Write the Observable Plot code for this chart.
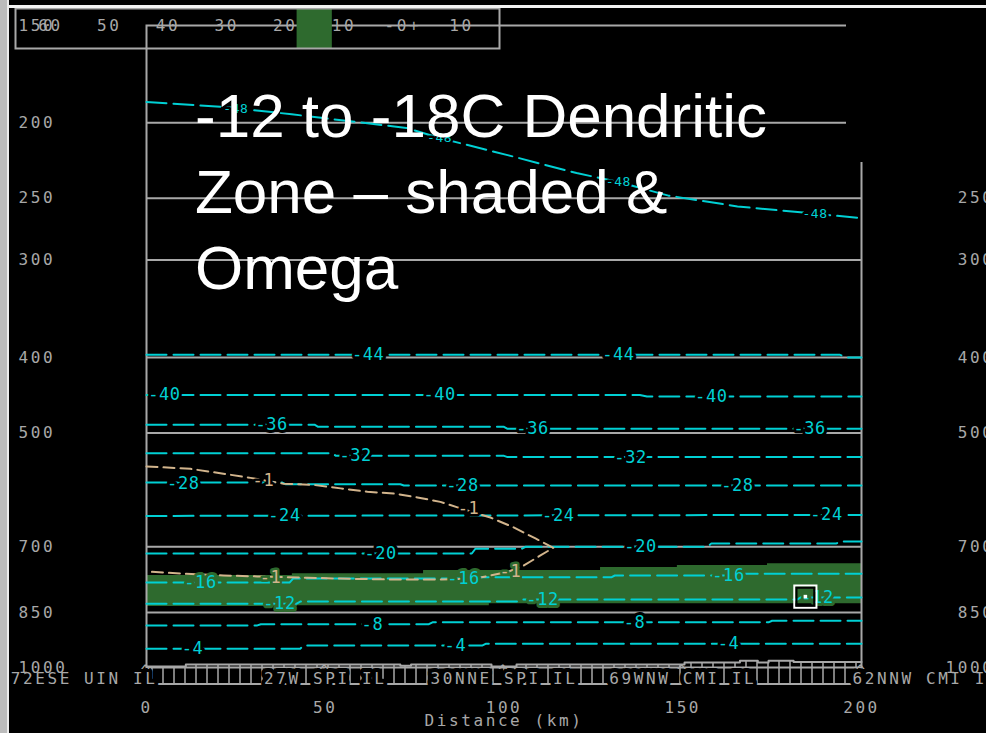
<!DOCTYPE html>
<html>
<head>
<meta charset="utf-8">
<script src="https://cdn.jsdelivr.net/npm/d3@7"></script>
<script src="https://cdn.jsdelivr.net/npm/@observablehq/plot@0.6"></script>
<style>
html, body { margin: 0; padding: 0; background: #000; }
#wrap { position: relative; width: 986px; height: 733px; overflow: hidden; background: #000; }
#wrap svg { position: absolute; left: 0; top: 0; }
#wrap svg g[fill="#a8a8a8"] text { letter-spacing: 2.6px; }
#wrap svg g[fill="#00d0d4"] text, #wrap svg g[fill="#d2b48c"] text { letter-spacing: 0.6px; }
.title { position: absolute; left: 195px; top: 78px; font: 62px/76px "Liberation Sans", Arial, sans-serif; color: #fff; white-space: nowrap; }
.topline { position: absolute; left: 9px; top: 5px; width: 977px; height: 3px; background: #f2f2f2; }
.leftbar { position: absolute; left: 0; top: 0; width: 7px; height: 733px; background: #bcbcbc; }
.leftline { position: absolute; left: 7px; top: 0; width: 2px; height: 733px; background: #ececec; }
.cover { position: absolute; left: 846px; top: 9px; width: 140px; height: 153px; background: #000; }
</style>
</head>
<body>
<div id="wrap"></div>
<script>
// ---------- data ----------
const xTicks = [0, 50, 100, 150, 200];                       // distance (km)
const leftTicks = [150, 200, 250, 300, 400, 500, 700, 850, 1000]; // hPa
const rightTicks = [250, 300, 400, 500, 700, 850, 1000];
const gridP = [200, 250, 300, 400, 500, 700, 850];
const stations = ["72ESE UIN IL", "27W SPI IL", "30NNE SPI IL", "69WNW CMI IL", "62NNW CMI IL"];
const stationKm = [0, 50, 100, 150, 200];

// isotherms: [km, hPa]
const isoM48 = [[0,188],[22.7,191],[40.6,195],[72.7,203],[81.7,209],[101,220],[120.3,232],[131.7,238],[146,248],[165.3,256],[188.5,262],[200,265]];
const labM48 = [[25,192],[82,209],[132,238],[187,262]];
const isoM44 = [[0,397],[194,397],[196,400],[200,400]];
const labM44 = [[62,397],[132,397]];
const isoM40 = [[0,447],[138,447],[140,449],[200,449]];
const labM40 = [[5,447],[82,447],[158,449]];
const isoM36 = [[0,488],[47,488],[48,491],[100,491],[101,494],[200,494]];
const labM36 = [[35,488],[108,494],[185.5,494]];
const isoM32 = [[0,531],[52,531],[53,535],[100,535],[101,537],[200,537]];
const labM32 = [[58.5,535],[135.4,537]];
const isoM28 = [[0,579],[38,579],[39,582],[71,582],[72,584],[200,584]];
const labM28 = [[10.3,580],[88.4,584],[165.3,584]];
const isoM24 = [[0,639],[100,638],[200,637]];
const labM24 = [[38.6,639],[115.2,638],[190.2,637]];
const isoM20 = [[0,714],[91,714],[92,704],[105,704],[106,700],[157,700],[158,693],[193,693],[194,689],[200,689]];
const labM20 = [[65.5,714],[138.2,700]];
const isoM16 = [[0,778],[40,778],[41,769],[91,769],[92,766],[130,766],[131,762],[163,762],[164,758],[200,758]];
const labM16 = [[15.1,778],[88.7,769],[162.8,762]];
const isoM12 = [[0,828],[42,828],[43,823],[104,823],[105,818],[182,818],[183,813],[200,813]];
const labM12 = [[37.2,828],[110.8,818],[187.7,813]];
const isoM8 = [[0,883],[31,883],[32,880],[79,880],[80,875],[174,875],[175,871],[200,871]];
const labM8 = [[63.2,880],[136.5,875]];
const isoM4 = [[0,946],[43,946],[44,937],[94,937],[95,932],[200,932]];
const labM4 = [[12.9,946],[86.4,937],[162.8,932]];

// omega -1 contour
const omegaUpper = [[0,552],[12.3,556],[21.5,564],[29.1,571],[38.3,581],[46.7,583],[54.3,589],[61.8,595],[69.1,598],[75.8,605],[82.2,613],[87,623],[96.2,642],[102.7,661],[108.8,683],[113.8,702]];
const omegaLower = [[113.8,702],[110.2,718],[105.5,740],[101.3,753],[96.2,762],[91.5,769],[82.2,771],[68.3,771],[54.3,769],[45,767],[31,764],[21.5,762],[10.3,758],[0,753]];
const omegaLabUpper = [[32.7,576],[90.1,625]];
const omegaLabLower = [[34.7,767],[101.8,753]];

// dendritic zone (shaded) boundaries
const bandKm = [0, 40.8, 42.2, 77.5, 95.9, 127, 148.5, 173.7, 200];
const bandTop = [762, 758, 758, 751, 751, 744, 740, 736, 736];
const bandBottom = [835, 835, 833, 833, 828, 828, 828, 828, 828];

// terrain surface (hPa)
const terrain = [[0,997],[11,991],[71,995],[74,991],[96.5,997],[103.5,991],[150.5,985],[166,980],[171,985],[174,980],[181,984],[200,984]];
const terrainBase = 1050;

// point marker
const marker = [[184.3, 811]];

// top temperature strip
const legendTemps = [-60, -50, -40, -30, -20, -10, 0, 10];
const legendLabels = ["60", "50", "40", "30", "20", "10", "-0+", "10"];
const dendritic = [-18, -12];

// ---------- build ----------
const gray = "#a8a8a8", cyan = "#00d0d4", green = "#2e6a2e", tan = "#d2b48c";
const isotherms = [[-48,isoM48,labM48],[-44,isoM44,labM44],[-40,isoM40,labM40],[-36,isoM36,labM36],[-32,isoM32,labM32],[-28,isoM28,labM28],[-24,isoM24,labM24],[-20,isoM20,labM20],[-16,isoM16,labM16],[-12,isoM12,labM12],[-8,isoM8,labM8],[-4,isoM4,labM4]];
const isoRows = isotherms.flatMap(([t, pts]) => pts.map(([km, p]) => ({t, km, p})));
const labRows = isotherms.flatMap(([t, , labs]) => labs.map(([km, p]) => ({t, km, p})));
const band = bandKm.map((km, i) => ({km, top: bandTop[i], bottom: bandBottom[i]}));
const omega = omegaUpper.concat(omegaLower);
const stationRows = stations.map((name, i) => ({name, km: stationKm[i]}));
const inBand = t => t === -12 || t === -16;

const txt = {x: "km", y: "p", text: d => String(d.t), fill: cyan};

const svg = Plot.plot({
  width: 986, height: 733,
  marginLeft: 146, marginRight: 125, marginTop: 25, marginBottom: 66,
  x: {domain: [0, 200], axis: null},
  y: {type: "log", domain: [150, 1000], reverse: true, axis: null},
  style: {background: "#000", color: gray, fontFamily: "'DejaVu Sans Mono', monospace", fontSize: "16px"},
  marks: [
    Plot.ruleY(gridP, {stroke: gray, strokeWidth: 2}),
    Plot.areaY(band, {x: "km", y1: "top", y2: "bottom", curve: "step-after", fill: green}),
    Plot.areaY(terrain, {x: d => d[0], y1: d => d[1], y2: terrainBase, curve: "step-after", fill: "url(#hatch)"}),
    Plot.line(terrain, {x: d => d[0], y: d => d[1], curve: "step-after", stroke: gray, strokeWidth: 2}),
    Plot.ruleY([terrainBase], {stroke: gray, strokeWidth: 2}),
    Plot.frame({stroke: gray, strokeWidth: 2}),
    Plot.line(isoRows, {x: "km", y: "p", z: "t", stroke: cyan, strokeWidth: 2, strokeDasharray: "20,7"}),
    Plot.line(omega, {x: d => d[0], y: d => d[1], stroke: tan, strokeWidth: 2, strokeDasharray: "11,6"}),
    Plot.text(labRows.filter(d => d.t === -48), {...txt, fontSize: 13, stroke: "#000", strokeWidth: 5}),
    Plot.text(labRows.filter(d => d.t !== -48 && !inBand(d.t)), {...txt, fontSize: 17, stroke: "#000", strokeWidth: 6}),
    Plot.text(labRows.filter(d => inBand(d.t)), {...txt, fontSize: 17, stroke: green, strokeWidth: 6}),
    Plot.text(omegaLabUpper, {x: d => d[0], y: d => d[1], text: () => "-1", fill: tan, fontSize: 17, stroke: "#000", strokeWidth: 5}),
    Plot.text(omegaLabLower, {x: d => d[0], y: d => d[1], text: () => "-1", fill: tan, fontSize: 17, stroke: green, strokeWidth: 5}),
    Plot.dot(marker, {x: d => d[0], y: d => d[1], symbol: "square", r: 12.5, stroke: "#fff", strokeWidth: 2, fill: "none"}),
    Plot.dot(marker, {x: d => d[0], y: d => d[1], symbol: "square", r: 10, stroke: "#000", strokeWidth: 2, fill: "none"}),
    Plot.dot(marker, {x: d => d[0], y: d => d[1], symbol: "square", r: 2, fill: "#fff", stroke: "none"}),
    // station labels
    Plot.text(stationRows.slice(0, 1), {x: "km", text: "name", frameAnchor: "bottom", dy: 16, dx: 11, textAnchor: "end", fill: gray, stroke: "#000", strokeWidth: 8}),
    Plot.text(stationRows.slice(1, 4), {x: "km", text: "name", frameAnchor: "bottom", dy: 16, textAnchor: "middle", fill: gray, stroke: "#000", strokeWidth: 8}),
    Plot.text(stationRows.slice(4), {x: "km", text: "name", frameAnchor: "bottom", dy: 16, dx: -9, textAnchor: "start", fill: gray, stroke: "#000", strokeWidth: 8}),
    Plot.text(stationKm, {x: d => d, text: () => "^", frameAnchor: "bottom", dy: 8, fill: gray}),
    // pressure labels
    Plot.text(leftTicks, {y: d => d, text: d => String(d), frameAnchor: "left", dx: -128, textAnchor: "start", fill: gray}),
    Plot.text(rightTicks, {y: d => d, text: d => String(d), frameAnchor: "right", dx: 133, textAnchor: "end", fill: gray}),
    // distance labels
    Plot.text(xTicks, {x: d => d, text: d => String(d), frameAnchor: "bottom", dy: 45, fill: gray}),
    Plot.text(["Distance (km)"], {x: d3.mean(xTicks), text: d => d, frameAnchor: "bottom", dy: 58, fill: gray})
  ]
});

// hatch pattern for the terrain strip
const NS = "http://www.w3.org/2000/svg";
const defs = document.createElementNS(NS, "defs");
const pat = document.createElementNS(NS, "pattern");
pat.setAttribute("id", "hatch");
pat.setAttribute("patternUnits", "userSpaceOnUse");
pat.setAttribute("width", "11");
pat.setAttribute("height", "40");
const ln = document.createElementNS(NS, "line");
ln.setAttribute("x1", "9"); ln.setAttribute("x2", "9");
ln.setAttribute("y1", "0"); ln.setAttribute("y2", "40");
ln.setAttribute("stroke", gray); ln.setAttribute("stroke-width", "1.5");
pat.appendChild(ln); defs.appendChild(pat);
svg.insertBefore(defs, svg.firstChild);

const legend = Plot.plot({
  width: 510, height: 50,
  marginLeft: 15, marginRight: 11, marginTop: 8, marginBottom: 2,
  x: {domain: [-60, 10], insetLeft: 35, insetRight: 38, axis: null},
  style: {background: "transparent", color: gray, fontFamily: "'DejaVu Sans Mono', monospace", fontSize: "16px"},
  marks: [
    Plot.rect([dendritic], {x1: d => d[0], x2: d => d[1], fill: green}),
    Plot.frame({stroke: gray, strokeWidth: 2}),
    Plot.text(legendTemps, {x: d => d, text: (d, i) => legendLabels[i], frameAnchor: "middle", dy: -3, fill: gray})
  ]
});

const wrap = document.getElementById("wrap");
wrap.appendChild(svg);
wrap.appendChild(legend);
wrap.insertAdjacentHTML("beforeend",
  '<div class="cover"></div><div class="topline"></div><div class="leftbar"></div><div class="leftline"></div>' +
  '<div class="title">-12 to -18C Dendritic<br>Zone – shaded &amp;<br>Omega</div>');
</script>
</body>
</html>
